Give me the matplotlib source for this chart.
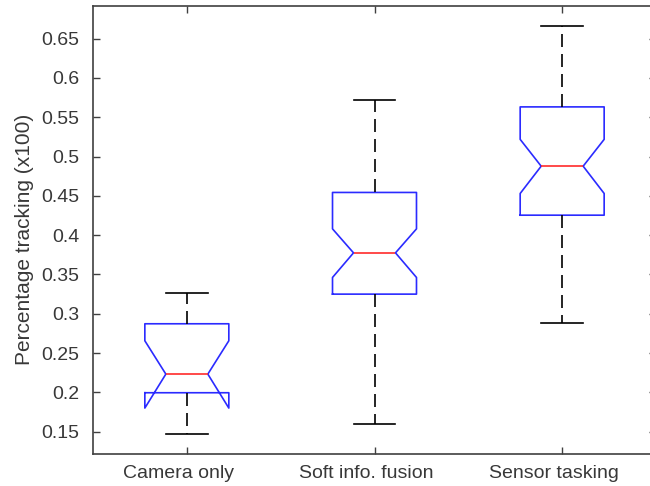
import matplotlib
matplotlib.use('Agg')
from matplotlib import pyplot as plt
from matplotlib.transforms import ScaledTranslation

# box statistics
labels = ['Camera only', 'Soft info. fusion', 'Sensor tasking']
q1 = [0.1996, 0.3250, 0.4254]
med = [0.2233, 0.3775, 0.4877]
q3 = [0.2873, 0.4543, 0.5631]
ci_lo = [0.1801, 0.3462, 0.4530]
ci_hi = [0.2657, 0.4080, 0.5218]
whis_lo = [0.1471, 0.1598, 0.2878]
whis_hi = [0.3259, 0.5716, 0.6660]
yticks = [0.15, 0.2, 0.25, 0.3, 0.35, 0.4, 0.45, 0.5, 0.55, 0.6, 0.65]

plt.rcParams['font.family'] = ['Liberation Sans', 'DejaVu Sans']
txt = '#383838'

stats = []
for i in range(len(labels)):
    stats.append(dict(label=labels[i], q1=q1[i], med=med[i], q3=q3[i],
                      cilo=ci_lo[i], cihi=ci_hi[i],
                      whislo=whis_lo[i], whishi=whis_hi[i], fliers=[]))

fig = plt.figure(figsize=(6.5, 4.86), dpi=100)
# right spine falls just past the picture edge, as in the reference
ax = fig.add_axes([93/650., 32/486., 563/650., 448/486.])

ax.bxp(stats, positions=[1, 2, 3], widths=0.4475, shownotches=True,
       showfliers=False,
       boxprops=dict(color='#2b2bff', linewidth=1.2),
       medianprops=dict(color='#ff2b2b', linewidth=1.2),
       whiskerprops=dict(color='black', linewidth=1.2, linestyle=(0, (7.8, 4.2))),
       capprops=dict(color='black', linewidth=1.2))

ax.set_xlim(0.5, 3.5)
ax.set_ylim(0.1217, 0.6914)
ax.set_yticks(yticks)
ax.set_yticklabels([('%g' % v) for v in yticks])
ax.set_xticks([1, 2, 3])
ax.set_xticklabels(labels)
ax.tick_params(direction='in', length=5, width=1, color='#404040',
               labelsize=14, labelcolor=txt, top=True, right=True)
ax.tick_params(axis='y', pad=10)
ax.tick_params(axis='x', pad=8)
# the category names sit a little left of their ticks in the original
shift = ScaledTranslation(-8/100., 0, fig.dpi_scale_trans)
for lab in ax.get_xticklabels():
    lab.set_transform(lab.get_transform() + shift)
for s in ax.spines.values():
    s.set_color('#404040')
    s.set_linewidth(1.2)
ax.set_ylabel('Percentage tracking (x100)', fontsize=15, color=txt, labelpad=5)
ax.yaxis.label.set_y(0.478)

plt.savefig('out.png', dpi=100)
